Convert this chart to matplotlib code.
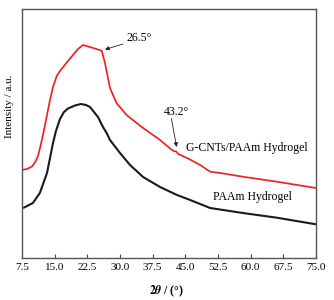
import matplotlib
matplotlib.use("Agg")
import matplotlib.pyplot as plt

plt.rcParams['font.family'] = ['Liberation Serif', 'DejaVu Serif']
plt.rcParams['mathtext.fontset'] = 'stix'

# Data (2theta in degrees, intensity in arbitrary units)
red_x = [7.5, 8.65, 9.8, 10.48, 11.17, 11.86, 12.55, 13.24, 13.93, 14.62, 15.47,
         16.22, 18.06, 20.36, 21.5, 23.1, 25.8, 26.55, 27.7, 29.2, 31.5, 35.3,
         39.2, 41.5, 42.3, 42.9, 43.4, 45.4, 48.4, 50.7, 53.0, 58.2, 66.0, 75.0]
red_y = [87.5, 88.5, 91.0, 95.0, 101.5, 113.5, 127.5, 142.5, 157.5, 170.5, 181.5,
         186.5, 196.5, 208.5, 212.5, 210.5, 206.8, 194.5, 169.5, 154.5, 142.5,
         129.5, 117.5, 109.0, 106.5, 106.0, 103.5, 99.5, 92.5, 85.8, 84.5, 80.8,
         75.8, 69.5]

black_x = [7.5, 8.0, 10.0, 11.6, 13.24, 13.93, 14.62, 15.3, 16.22, 17.14, 18.06,
           19.67, 21.04, 22.19, 23.11, 24.95, 26.09, 27.0, 27.7, 30.0, 32.3,
           35.3, 39.2, 43.1, 46.1, 50.7, 58.2, 66.0, 75.0]
black_y = [49.5, 50.0, 54.5, 64.5, 84.5, 99.5, 114.5, 126.5, 138.5, 145.5, 149.0,
           152.0, 153.5, 152.5, 150.5, 140.5, 130.5, 124.0, 117.5, 104.5, 92.5,
           80.5, 70.5, 62.5, 57.5, 49.5, 44.5, 39.8, 33.2]

xticks = [7.5, 15.0, 22.5, 30.0, 37.5, 45.0, 52.5, 60.0, 67.5, 75.0]

fig = plt.figure(figsize=(3.34, 3.0), dpi=100)
ax = fig.add_axes([22/334, 1-257.5/300, (316-22)/334, (257.5-9)/300])

ax.plot(red_x, red_y, color='#ee2222', lw=1.25, solid_joinstyle='round')
ax.plot(black_x, black_y, color='#1a1a1a', lw=1.5, solid_joinstyle='round')

ax.set_xlim(7.5, 75)
ax.set_ylim(0, 248.5)
ax.set_xticks(xticks)
ax.set_xticklabels(['%.1f' % t for t in xticks], fontsize=8)
ax.set_yticks([])
ax.tick_params(axis='x', direction='in', length=3, width=0.8, pad=4, color='#444444')
for s in ax.spines.values():
    s.set_color('#555555')
    s.set_linewidth(1.0)

ax.set_xlabel(r'$\mathbf{2}\boldsymbol{\theta}$ / (°)', fontsize=8.5, fontweight='bold')
ax.xaxis.set_label_coords(0.49, -0.105)
ax.set_ylabel('Intensity / a.u.', fontsize=8)
ax.yaxis.set_label_coords(-0.026, 0.61)

arrow = dict(arrowstyle='-|>', color='#222222', lw=0.6, mutation_scale=6,
             shrinkA=0, shrinkB=0)
ax.text(31.4, 219.5, '26.5°', fontsize=8.5, ha='left', va='center')
ax.annotate('', xy=(26.55, 208.0), xytext=(30.7, 213.5), arrowprops=arrow)
ax.text(43.0, 145.5, '43.2°', fontsize=8.5, ha='center', va='center')
ax.annotate('', xy=(43.0, 110.5), xytext=(41.8, 139.0), arrowprops=arrow)
ax.text(45.15, 109.5, 'G-CNTs/PAAm Hydrogel', fontsize=8.5, ha='left', va='center')
ax.text(51.35, 60.5, 'PAAm Hydrogel', fontsize=8.5, ha='left', va='center')

fig.savefig('out.png', dpi=100)
